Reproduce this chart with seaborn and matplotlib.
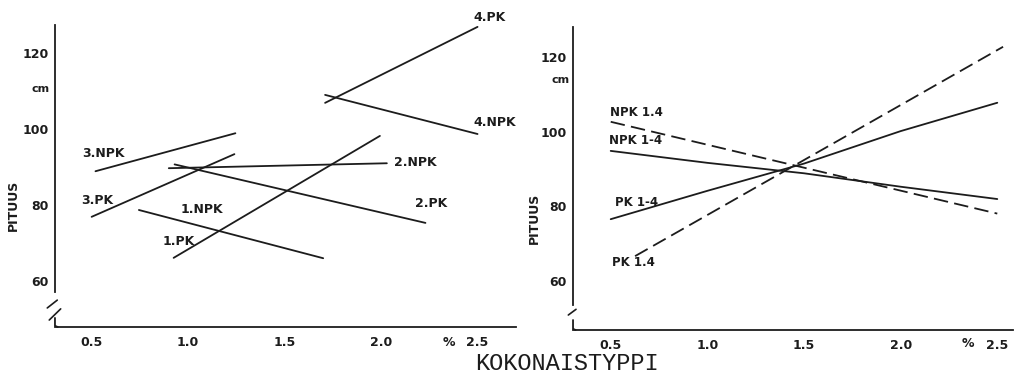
import matplotlib
matplotlib.use("Agg")
import matplotlib.pyplot as plt
import seaborn as sns
import pandas as pd

sns.set_style("white")
plt.rcParams['font.family'] = ['DejaVu Sans']

# ---------------- data ----------------
x_ticks = [0.5, 1.0, 1.5, 2.0, 2.5]
x_tick_labels = ["0.5", "1.0", "1.5", "2.0", "2.5"]
y_ticks = [60, 80, 100, 120]
y_tick_labels = ["60", "80", "100", "120"]

# left panel (numbered series)
pk1_x = [0.925, 1.994]
pk1_y = [68.2, 100.3]
npk1_x = [0.745, 1.70]
npk1_y = [80.8, 68.1]
pk2_x = [0.93, 2.23]
pk2_y = [92.8, 77.4]
npk2_x = [0.90, 2.03]
npk2_y = [91.8, 93.1]
pk3_x = [0.50, 1.24]
pk3_y = [79.0, 95.5]
npk3_x = [0.52, 1.245]
npk3_y = [91.0, 101.0]
pk4_x = [1.71, 2.50]
pk4_y = [109.0, 129.0]
npk4_x = [1.71, 2.50]
npk4_y = [111.1, 100.8]

left_names = ["1.PK", "1.NPK", "2.PK", "2.NPK", "3.PK", "3.NPK", "4.PK", "4.NPK"]
left_xs = [pk1_x, npk1_x, pk2_x, npk2_x, pk3_x, npk3_x, pk4_x, npk4_x]
left_ys = [pk1_y, npk1_y, pk2_y, npk2_y, pk3_y, npk3_y, pk4_y, npk4_y]

# right panel
npk14_dash_x = [0.5, 2.5]
npk14_dash_y = [104.8, 80.2]
npk14_solid_x = [0.5, 1.0, 1.5, 2.0, 2.5]
npk14_solid_y = [97.0, 93.8, 91.0, 87.4, 84.1]
pk14_solid_x = [0.5, 1.0, 1.5, 2.0, 2.5]
pk14_solid_y = [78.7, 86.3, 93.6, 102.3, 109.9]
pk14_dash_x = [0.626, 2.53]
pk14_dash_y = [68.8, 124.9]

right_names = ["NPK 1.4", "NPK 1-4", "PK 1-4", "PK 1.4"]
right_xs = [npk14_dash_x, npk14_solid_x, pk14_solid_x, pk14_dash_x]
right_ys = [npk14_dash_y, npk14_solid_y, pk14_solid_y, pk14_dash_y]
right_dashed = [True, False, False, True]

# label anchor positions (layout)
left_label_pos = {"1.PK": (0.95, 72.6), "1.NPK": (1.07, 81.0), "2.PK": (2.26, 82.6),
                  "2.NPK": (2.18, 93.2), "3.PK": (0.53, 83.4), "3.NPK": (0.56, 95.8),
                  "4.PK": (2.56, 131.6), "4.NPK": (2.59, 103.7)}
right_label_pos = {"NPK 1.4": (0.634, 107.2), "NPK 1-4": (0.629, 99.8),
                   "PK 1-4": (0.632, 83.3), "PK 1.4": (0.619, 67.2)}

INK = "#1c1c1c"
LW = 1.3
bold = dict(fontweight="bold", color=INK)

fig = plt.figure(figsize=(10.16, 3.74), dpi=100)
fig.patch.set_facecolor("white")

ax1 = fig.add_axes([0.0541, 0.1257, 0.4539, 0.8075])
ax2 = fig.add_axes([0.564, 0.1176, 0.4328, 0.8102])

for name, xs, ys in zip(left_names, left_xs, left_ys):
    df = pd.DataFrame({"x": xs, "y": ys})
    sns.lineplot(data=df, x="x", y="y", ax=ax1, color=INK, lw=LW,
                 sort=False, estimator=None)
    lx, ly = left_label_pos[name]
    ax1.text(lx, ly, name, ha="center", va="center", fontsize=9,
             clip_on=False, **bold)

for name, xs, ys, dashed in zip(right_names, right_xs, right_ys, right_dashed):
    df = pd.DataFrame({"x": xs, "y": ys})
    ls = (0, (8, 3.5)) if dashed else "-"
    sns.lineplot(data=df, x="x", y="y", ax=ax2, color=INK, lw=LW,
                 sort=False, estimator=None, linestyle=ls)
    lx, ly = right_label_pos[name]
    ax2.text(lx, ly, name, ha="center", va="center", fontsize=8.5,
             clip_on=False, **bold)

def style_axes(ax, xlim, ylim, spine_low, slashes, corner_h, pct_y):
    ax.set_xlim(*xlim)
    ax.set_ylim(*ylim)
    ax.set_xticks(x_ticks)
    ax.set_xticklabels(x_tick_labels)
    ax.set_yticks(y_ticks)
    ax.set_yticklabels(y_tick_labels)
    for s in ["top", "right"]:
        ax.spines[s].set_visible(False)
    for s in ["left", "bottom"]:
        ax.spines[s].set_color(INK)
        ax.spines[s].set_linewidth(1.3)
    ax.spines["left"].set_bounds(spine_low, ylim[1])
    ax.tick_params(axis="both", direction="inout", length=7, width=1.2,
                   color=INK, labelsize=9, labelcolor=INK, pad=3)
    ax.tick_params(axis="y", pad=1)
    for lab in ax.get_xticklabels() + ax.get_yticklabels():
        lab.set_fontweight("bold")
    for lab in ax.get_yticklabels():
        lab.set_va("bottom")
    ax.set_xlabel("")
    ax.set_ylabel("PITUUS", fontsize=9, fontweight="bold", color=INK)
    for (x0, y0, x1, y1) in slashes:
        ax.plot([x0, x1], [y0, y1], transform=ax.transAxes, color=INK,
                lw=1.2, clip_on=False)
    ax.plot([0, 0, 0.006], [corner_h, 0.004, 0], transform=ax.transAxes,
            color=INK, lw=1.3, clip_on=False)
    ax.text(2.35, pct_y, "%", transform=ax.get_xaxis_transform(),
            ha="center", va="center", fontsize=9, **bold)

style_axes(ax1, (0.31, 2.70), (50, 129.5), 59.2,
           [(-0.0167, 0.063, 0.005, 0.089), (-0.0124, 0.023, 0.0124, 0.060)],
           0.03, -0.053)
style_axes(ax2, (0.305, 2.58), (49, 130.2), 55.7,
           [(-0.0107, 0.0495, 0.0068, 0.0683)], 0.033, -0.043)

ax1.yaxis.set_label_coords(-0.076, 0.404)
ax2.yaxis.set_label_coords(-0.072, 0.37)

ax1.text(-0.011, 112.6, "cm", transform=ax1.get_yaxis_transform(), ha="right",
         va="center", fontsize=8, **bold)
ax2.text(-0.007, 116.0, "cm", transform=ax2.get_yaxis_transform(), ha="right",
         va="center", fontsize=8, **bold)

fig.text(0.5585, 0.027, "KOKONAISTYPPI", ha="center", va="center",
         fontsize=17, family="Liberation Mono", color=INK)

fig.savefig("out.png", dpi=100, facecolor="white")
